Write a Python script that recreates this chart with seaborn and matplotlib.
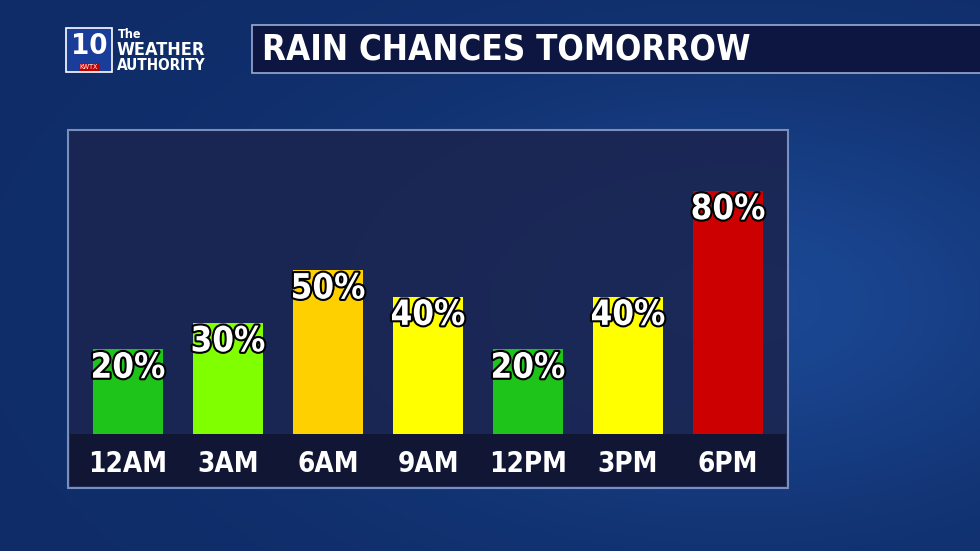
import numpy as np
import matplotlib
matplotlib.use("Agg")
import matplotlib.pyplot as plt
import matplotlib.patheffects as pe
import seaborn as sns
import pandas as pd
from matplotlib.colors import LinearSegmentedColormap

times = ["12AM", "3AM", "6AM", "9AM", "12PM", "3PM", "6PM"]
chances = [20, 30, 50, 40, 20, 40, 80]
colors = ["#1fc41a", "#80ff00", "#ffd000", "#ffff00", "#1fc41a", "#ffff00", "#cc0000"]
title = "RAIN CHANCES TOMORROW"

sns.set_theme(style="white")
plt.rcParams['font.family'] = ['DejaVu Sans']
plt.rcParams['font.stretch'] = 'condensed'
C = dict(fontstretch='condensed', fontweight='bold')

W, H = 980, 551
fig = plt.figure(figsize=(9.8, 5.51), dpi=100)

bg = fig.add_axes([0, 0, 1, 1], zorder=0)
yy, xx = np.mgrid[0:1:200j, 0:1:300j]
grad = 0.35 + 0.5 * np.exp(-((xx - 0.75) ** 2 + (yy - 0.55) ** 2) / 0.15)
cm = LinearSegmentedColormap.from_list("b", ["#071a4a", "#1e4fa0"])
bg.imshow(grad, cmap=cm, aspect="auto", extent=[0, 1, 0, 1], vmin=0, vmax=1)
bg.set_xlim(0, 1); bg.set_ylim(0, 1)
bg.set_axis_off()

def fx(px): return px / W
def fy(py): return 1 - py / H

def rect(x0, y0, x1, y1, **kw):
    bg.add_patch(plt.Rectangle((fx(x0), fy(y1)), fx(x1) - fx(x0), fy(y0) - fy(y1), **kw))

rect(68, 130, 788, 488, facecolor="#1b2550", alpha=0.88, edgecolor="#8a9cc8", lw=1.5)
rect(70, 434, 786, 486, facecolor="#101634", edgecolor="none")
rect(252, 25, 985, 73, facecolor="#0c1640", edgecolor="#9aaad0", lw=1.2)
rect(66, 28, 112, 72, facecolor="#1a3d9a", edgecolor="white", lw=1.2)

fig.text(fx(262), fy(50), title, color="white", fontsize=25, va="center", **C)
fig.text(fx(89), fy(46), "10", color="white", fontsize=21, ha="center", va="center", **C)
fig.text(fx(89), fy(67), "KWTX", color="white", fontsize=5, ha="center", va="center",
         bbox=dict(facecolor="#c00000", edgecolor="none", pad=0.5))
fig.text(fx(118), fy(34), "The", color="white", fontsize=9, va="center", **C)
fig.text(fx(117), fy(50), "WEATHER", color="white", fontsize=13, va="center", **C)
fig.text(fx(117), fy(65), "AUTHORITY", color="white", fontsize=11, va="center", **C)

ax = fig.add_axes([fx(78), fy(434), fx(778) - fx(78), fy(130) - fy(434)], zorder=2)
ax.patch.set_alpha(0)
base = -12
df = pd.DataFrame({"time": times, "chance": chances})
df["h"] = df["chance"] - base
sns.barplot(data=df, x="time", y="h", hue="time", palette=colors, legend=False,
            width=0.7, bottom=base, ax=ax, saturation=1, edgecolor="none", linewidth=0)
ax.set_ylim(base, 103)
ax.set_xlim(-0.5, len(times) - 0.5)
ax.set_axis_off()
for i, v in enumerate(chances):
    ax.text(i, v - 0.5, f"{v}%", ha="center", va="top", color="white", fontsize=25,
            path_effects=[pe.withStroke(linewidth=3, foreground="black")], **C)
for i, t in enumerate(times):
    fig.text(fx(128 + 100 * i), fy(464), t, ha="center", va="center", color="white",
             fontsize=20, **C)

fig.savefig("out.png", dpi=100)
